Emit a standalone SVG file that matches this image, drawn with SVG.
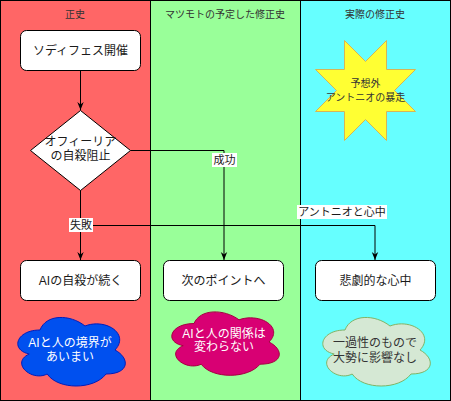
<svg xmlns="http://www.w3.org/2000/svg" width="451" height="401" viewBox="0 0 451 401">
<defs>
<style>
text{font-family:"Liberation Sans","Noto Sans CJK JP",sans-serif;dominant-baseline:central;text-anchor:middle;}
.hdr{font-size:10px;fill:#333333;}
.lbl{font-size:12px;fill:#1a1a1a;}
.small{font-size:10px;fill:#333333;}
.elbl{font-size:11px;fill:#1a1a1a;}
.box{fill:#ffffff;stroke:#000000;stroke-width:1;}
.edge{fill:none;stroke:#000000;stroke-width:1;marker-end:url(#arr);}
.lane{stroke:#000000;stroke-width:1;}
.lblbg{fill:#ffffff;}
</style>
<marker id="arr" viewBox="0 0 10 10" refX="10" refY="5" markerWidth="8" markerHeight="8" orient="auto" markerUnits="userSpaceOnUse">
<path d="M0,1 L10,5 L0,9 L3,5 Z" fill="#000000"/>
</marker>
</defs>
<g id="lanes">
<rect id="lane1" class="lane" x="0.5" y="0.5" width="150" height="400" fill="#FF6666"/>
<rect id="lane2" class="lane" x="150.5" y="0.5" width="150" height="400" fill="#99FF99"/>
<rect id="lane3" class="lane" x="300.5" y="0.5" width="150" height="400" fill="#66FFFF"/>
<text class="hdr" x="75" y="14">正史</text>
<text class="hdr" x="225" y="14">マツモトの予定した修正史</text>
<text class="hdr" x="375" y="14">実際の修正史</text>
</g>
<g id="connectors">
<path class="edge" d="M80.5,70.5 L80.5,110"/>
<path class="edge" d="M130.5,150.5 L224,150.5 L224,260"/>
<path class="edge" d="M80.5,190 L80.5,260"/>
<path class="edge" d="M80.5,190 L80.5,225.5 L375,225.5 L375,260"/>
<rect class="lblbg" x="212" y="153" width="25" height="14"/>
<text class="elbl" x="224.5" y="160">成功</text>
<rect class="lblbg" x="69" y="218" width="24" height="14"/>
<text class="elbl" x="81" y="225">失敗</text>
<rect class="lblbg" x="297" y="205" width="90" height="14"/>
<text class="elbl" x="342" y="212">アントニオと心中</text>
</g>
<g id="node-sodifes">
<rect class="box" x="20.5" y="30.5" width="120" height="40" rx="6" ry="6"/>
<text class="lbl" x="80.5" y="50.5">ソディフェス開催</text>
</g>
<g id="node-decision">
<polygon class="box" points="80.5,110.5 130.5,150.5 80.5,190.5 30.5,150.5"/>
<text class="lbl" x="80.5" y="142">オフィーリア</text>
<text class="lbl" x="80.5" y="156">の自殺阻止</text>
</g>
<g id="node-ai-continue">
<rect class="box" x="20.5" y="260.5" width="120" height="40" rx="6" ry="6"/>
<text class="lbl" x="80.5" y="280.5">AIの自殺が続く</text>
</g>
<g id="node-next-point">
<rect class="box" x="163.5" y="260.5" width="120" height="40" rx="6" ry="6"/>
<text class="lbl" x="223.5" y="280.5">次のポイントへ</text>
</g>
<g id="node-tragic">
<rect class="box" x="315.5" y="260.5" width="120" height="40" rx="6" ry="6"/>
<text class="lbl" x="375.5" y="280.5">悲劇的な心中</text>
</g>
<g id="node-star">
<polygon points="344.5,40.5 365.5,61.5 386.5,40.5 386.5,69.5 415.5,69.5 394.5,90.5 415.5,111.5 386.5,111.5 386.5,140.5 365.5,119.5 344.5,140.5 344.5,111.5 315.5,111.5 336.5,90.5 315.5,69.5 344.5,69.5" fill="#FFFF33" stroke="#D6B656" stroke-width="1"/>
<text class="small" x="365.5" y="83">予想外</text>
<text class="small" x="365.5" y="97">アントニオの暴走</text>
</g>
<g id="cloud-blue">
<path d="M40,330 C16,330 10,350 29.2,354 C10,362.8 31.6,382 47.2,374 C58,390 94,390 106,374 C130,374 130,358 115,350 C130,334 106,318 85,326 C70,314 46,314 40,330 Z" fill="#0050EF" stroke="#001DBC" stroke-width="1"/>
<text class="lbl" x="70" y="343" style="fill:#ffffff">AIと人の境界が</text>
<text class="lbl" x="70" y="357" style="fill:#ffffff">あいまい</text>
</g>
<g id="cloud-magenta">
<path d="M194,323.5 C170,323.5 164,342 183.2,345.7 C164,353.8 185.6,371.6 201.2,364.2 C212,379 248,379 260,364.2 C284,364.2 284,349.4 269,342 C284,327.2 260,312.4 239,319.8 C224,308.7 200,308.7 194,323.5 Z" fill="#D80073" stroke="#A50040" stroke-width="1"/>
<text class="lbl" x="224" y="333.5" style="fill:#ffffff">AIと人の関係は</text>
<text class="lbl" x="224" y="347" style="fill:#ffffff">変わらない</text>
</g>
<g id="cloud-green">
<path d="M345,330 C321,330 315,350 334.2,354 C315,362.8 336.6,382 352.2,374 C363,390 399,390 411,374 C435,374 435,358 420,350 C435,334 411,318 390,326 C375,314 351,314 345,330 Z" fill="#D5E8D4" stroke="#82B366" stroke-width="1"/>
<text class="lbl" x="375" y="343" style="fill:#333333">一過性のもので</text>
<text class="lbl" x="375" y="357.5" style="fill:#333333">大勢に影響なし</text>
</g>
</svg>
